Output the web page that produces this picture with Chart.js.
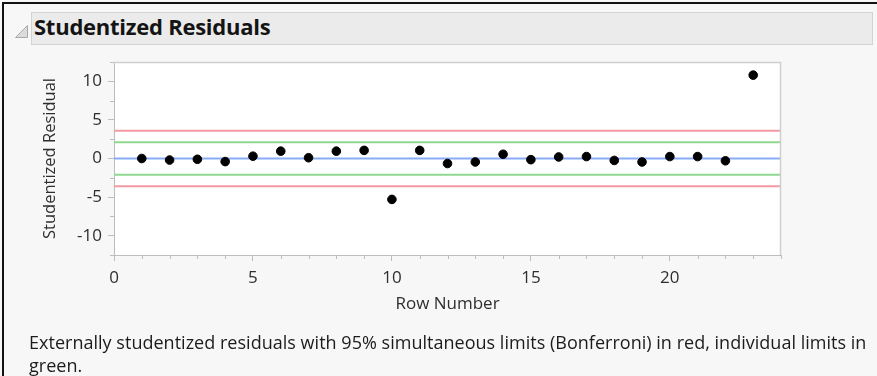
<!DOCTYPE html>
<html>
<head>
<meta charset="utf-8">
<title>Studentized Residuals</title>
<script src="https://cdn.jsdelivr.net/npm/chart.js@4.4.1/dist/chart.umd.min.js"></script>
<style>
  html, body { margin: 0; padding: 0; }
  body {
    width: 877px; height: 376px; overflow: hidden; position: relative;
    background: #f7f7f7; font-family: "Open Sans", "Noto Sans", sans-serif;
  }
  #frame {
    position: absolute; left: 2px; top: 2px; width: 900px; height: 400px;
    border-left: 2px solid #111; border-top: 2px solid #111;
  }
  #hdr {
    position: absolute; left: 31px; top: 12px; width: 840px; height: 31px;
    background: #ebebeb; border: 1px solid #d2d2d2;
  }
  #hdr span {
    position: absolute; left: 2px; top: 2px; font-size: 22px; line-height: 22px;
    font-weight: 700; color: #141414; white-space: nowrap; letter-spacing: -0.25px;
  }
  #tri { position: absolute; left: 14px; top: 24px; }
  #chart { position: absolute; left: 0; top: 0; }
  #cap {
    position: absolute; left: 29px; top: 331px; font-size: 18px; line-height: 23px;
    color: #1c1c1c; white-space: nowrap; letter-spacing: 0.02px;
  }
</style>
</head>
<body>
<div id="frame"></div>
<svg id="tri" width="16" height="16" viewBox="0 0 16 16">
  <polygon points="1.5,13.5 13.5,13.5 13.5,1.5" fill="#dcdcdc" stroke="#a8a8a8" stroke-width="1"/>
</svg>
<div id="hdr"><span>Studentized Residuals</span></div>
<canvas id="chart" width="877" height="376"></canvas>
<div id="cap">Externally studentized residuals with 95% simultaneous limits (Bonferroni) in red, individual limits in<br>green.</div>

<script>
// Row numbers and externally studentized residuals
const rowNumbers = [1, 2, 3, 4, 5, 6, 7, 8, 9, 10, 11, 12, 13, 14, 15, 16, 17, 18, 19, 20, 21, 22, 23];
const residuals = [0.0, -0.2, -0.1, -0.4, 0.3, 0.95, 0.1, 0.95, 1.05, -5.3, 1.05, -0.65,
                   -0.45, 0.55, -0.15, 0.2, 0.25, -0.25, -0.45, 0.25, 0.25, -0.3, 10.8];

// Limits: Bonferroni simultaneous (red) and individual (green)
const simultaneousLimit = 3.6;
const individualLimit = 2.1;
const centerValue = 0;

// Axis ranges and tick labels
const xRange = [0, 24];
const yRange = [-12.5, 12.5];
const xTicks = [0, 5, 10, 15, 20];
const yTicks = [-10, -5, 0, 5, 10];
const xMinorStep = 1;
const yMinorStep = 2.5;

const AXIS_GREY = '#bdbdbd';
const LABEL_COLOR = '#2e2e2e';
const FONT_FAMILY = '"Open Sans", sans-serif';

function limitLine(label, value, color) {
  return {
    type: 'line',
    label,
    data: [{ x: xRange[0], y: value }, { x: xRange[1], y: value }],
    borderColor: color,
    borderWidth: 2,
    pointRadius: 0,
    order: 2
  };
}

// Plot background, top/right frame and minor ticks
const plotFrame = {
  id: 'plotFrame',
  beforeDraw(chart) {
    const { ctx, chartArea: a } = chart;
    ctx.save();
    ctx.fillStyle = '#ffffff';
    ctx.fillRect(a.left, a.top, a.right - a.left, a.bottom - a.top);
    ctx.restore();
  },
  afterDraw(chart) {
    const { ctx, chartArea: a, scales: { x, y } } = chart;
    ctx.save();
    ctx.strokeStyle = '#cfcfcf';
    ctx.lineWidth = 1.5;
    ctx.beginPath();
    ctx.moveTo(a.left, a.top + 0.5);
    ctx.lineTo(a.right - 0.5, a.top + 0.5);
    ctx.lineTo(a.right - 0.5, a.bottom);
    ctx.stroke();

    ctx.strokeStyle = AXIS_GREY;
    ctx.lineWidth = 1;
    ctx.beginPath();
    for (let v = xRange[0]; v <= xRange[1] + 1e-9; v += xMinorStep) {
      if (xTicks.includes(v)) continue;
      const px = Math.round(x.getPixelForValue(v)) + 0.5;
      ctx.moveTo(px, a.bottom);
      ctx.lineTo(px, a.bottom + 4);
    }
    for (let v = yRange[0]; v <= yRange[1] + 1e-9; v += yMinorStep) {
      if (yTicks.includes(v)) continue;
      const py = Math.round(y.getPixelForValue(v)) + 0.5;
      ctx.moveTo(a.left, py);
      ctx.lineTo(a.left - 4, py);
    }
    ctx.stroke();
    ctx.restore();
  }
};

new Chart(document.getElementById('chart'), {
  type: 'scatter',
  data: {
    datasets: [
      {
        label: 'Studentized Residual',
        data: rowNumbers.map((r, i) => ({ x: r, y: residuals[i] })),
        backgroundColor: '#000000',
        borderColor: '#000000',
        pointRadius: 4.3,
        pointHoverRadius: 4.3,
        order: 1
      },
      limitLine('Upper simultaneous limit', simultaneousLimit, '#f59aa3'),
      limitLine('Lower simultaneous limit', -simultaneousLimit, '#f59aa3'),
      limitLine('Upper individual limit', individualLimit, '#8fd88f'),
      limitLine('Lower individual limit', -individualLimit, '#8fd88f'),
      limitLine('Center', centerValue, '#8aacf7')
    ]
  },
  options: {
    responsive: false,
    animation: false,
    devicePixelRatio: 1,
    layout: { padding: { left: 0, top: 62, right: 96, bottom: 61 } },
    plugins: { legend: { display: false }, tooltip: { enabled: false } },
    scales: {
      x: {
        type: 'linear',
        min: xRange[0],
        max: xRange[1],
        afterBuildTicks(scale) { scale.ticks = xTicks.map(v => ({ value: v })); },
        afterFit(scale) { scale.height = 60; },
        grid: { drawOnChartArea: false, drawTicks: true, tickLength: 6, color: AXIS_GREY },
        border: { color: AXIS_GREY, width: 1 },
        ticks: { autoSkip: false, maxRotation: 0, padding: 7, color: LABEL_COLOR,
                 font: { family: FONT_FAMILY, size: 17 } },
        title: { display: true, text: 'Row Number', color: LABEL_COLOR,
                 padding: { top: 0, bottom: 1 },
                 font: { family: FONT_FAMILY, size: 17 } }
      },
      y: {
        type: 'linear',
        min: yRange[0],
        max: yRange[1],
        afterBuildTicks(scale) { scale.ticks = yTicks.map(v => ({ value: v })); },
        afterFit(scale) { scale.width = 114; },
        grid: { drawOnChartArea: false, drawTicks: true, tickLength: 6, color: AXIS_GREY },
        border: { color: AXIS_GREY, width: 1 },
        ticks: { autoSkip: false, padding: 6, color: LABEL_COLOR,
                 font: { family: FONT_FAMILY, size: 17 } },
        title: { display: true, text: 'Studentized Residual', color: LABEL_COLOR,
                 padding: { top: 40, bottom: 0 },
                 font: { family: FONT_FAMILY, size: 16.5 } }
      }
    }
  },
  plugins: [plotFrame]
});
</script>
</body>
</html>
